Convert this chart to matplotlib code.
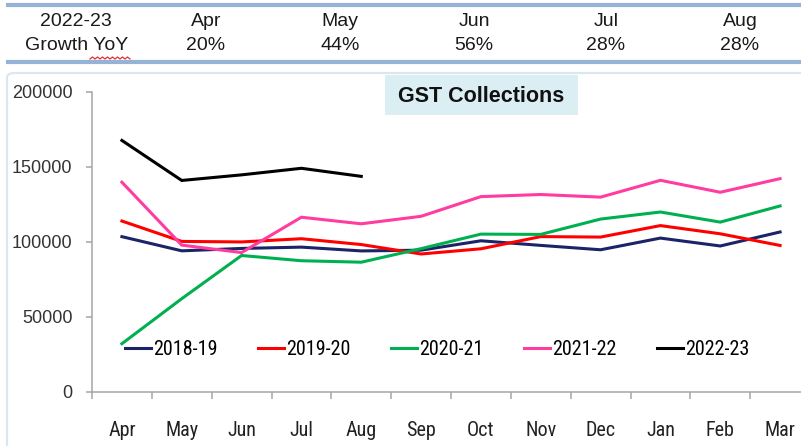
import numpy as np
import matplotlib.pyplot as plt
from matplotlib.patches import Rectangle, FancyBboxPatch
from matplotlib.lines import Line2D

# --- data
months = ['Apr', 'May', 'Jun', 'Jul', 'Aug', 'Sep', 'Oct', 'Nov', 'Dec', 'Jan', 'Feb', 'Mar']
fy_2018 = [103459, 94016, 95610, 96483, 93960, 94442, 100710, 97637, 94726, 102503, 97247, 106577]
fy_2019 = [113865, 100289, 99939, 102083, 98202, 91916, 95380, 103491, 103184, 110828, 105366, 97597]
fy_2020 = [32172, 62151, 90917, 87422, 86449, 95480, 105155, 104963, 115174, 119875, 113143, 123902]
fy_2021 = [139708, 97821, 92849, 116393, 112020, 117010, 130127, 131526, 129780, 140986, 133026, 142095]
fy_2022 = [167540, 140885, 144616, 148995, 143612]

series_labels = ['2018-19', '2019-20', '2020-21', '2021-22', '2022-23']
series_colors = ['#1a2466', '#ff0000', '#00b050', '#ff3ca0', '#000000']

growth_months = ['Apr', 'May', 'Jun', 'Jul', 'Aug']
growth_yoy = ['20%', '44%', '56%', '28%', '28%']

W, H = 801, 446
NARROW = ['Roboto Condensed', 'PT Sans Narrow', 'DejaVu Sans']
ARIAL = ['Liberation Sans', 'DejaVu Sans']

fig = plt.figure(figsize=(W / 100, H / 100), dpi=100)


def fx(x):
    return x / W


def fy(y):
    return 1 - y / H


# --- top growth table
for yline in (5, 62):
    fig.add_artist(Line2D([fx(8), fx(801)], [fy(yline), fy(yline)], color='#95b3d7', lw=3))

fig.text(fx(76), fy(22), '2022-23', ha='center', va='center', fontsize=14, family=ARIAL, color='#1a1a1a')
fig.text(fx(77), fy(46), 'Growth YoY', ha='center', va='center', fontsize=14, family=ARIAL, color='#1a1a1a')
# spell-check squiggle under YoY
sq_x = np.linspace(fx(90), fx(130), 17)
sq_y = fy(59) + np.where(np.arange(17) % 2 == 0, 0, 2 / H)
fig.add_artist(Line2D(sq_x, sq_y, color='#e03030', lw=0.9))

col_x = [206, 340, 474, 606, 740]
for xc, m, g in zip(col_x, growth_months, growth_yoy):
    fig.text(fx(xc), fy(22), m, ha='center', va='center', fontsize=14, family=ARIAL, color='#1a1a1a')
    fig.text(fx(xc), fy(46), g, ha='center', va='center', fontsize=14, family=ARIAL, color='#1a1a1a')

# --- chart frame
fig.add_artist(FancyBboxPatch((fx(7), fy(470)), fx(820), (470 - 73) / H,
                              boxstyle='round,pad=0,rounding_size=0.01',
                              transform=fig.transFigure, fill=False,
                              edgecolor='#dce6f2', lw=1.6))

# --- plot
ax = fig.add_axes([fx(92), fy(392), fx(810 - 92), (392 - 91.7) / H])
x = np.arange(12) + 0.5
all_series = [fy_2018, fy_2019, fy_2020, fy_2021, fy_2022]
for vals, lab, col in zip(all_series, series_labels, series_colors):
    ax.plot(x[:len(vals)], vals, color=col, lw=2.2, label=lab, solid_joinstyle='miter')

ax.set_xlim(0, 12)
ax.set_ylim(0, 200000)
ax.set_yticks([0, 50000, 100000, 150000, 200000])
ax.set_yticklabels(['0', '50000', '100000', '150000', '200000'], family=ARIAL, fontsize=13, color='#333333')
ax.set_xticks(np.arange(13))
ax.set_xticklabels([])
ax.set_xticks(x, minor=True)
ax.set_xticklabels(months, minor=True, family=NARROW, fontsize=14.5, color='#222222')
ax.tick_params(axis='x', which='major', length=5, color='#a6a6a6', width=1.1)
ax.tick_params(axis='x', which='minor', length=0, pad=21)
ax.tick_params(axis='y', length=4, color='#a6a6a6', width=1.1, pad=10)
for s in ('top', 'right'):
    ax.spines[s].set_visible(False)
for s in ('left', 'bottom'):
    ax.spines[s].set_color('#a6a6a6')
    ax.spines[s].set_linewidth(1.1)

ax.legend(loc='center left', bbox_to_anchor=(0.046, 0.14), ncol=5, frameon=False,
          prop={'family': NARROW, 'size': 14.5}, handlelength=1.3, handletextpad=0.1,
          columnspacing=2.0, borderpad=0, borderaxespad=0)

# title box
fig.add_artist(Rectangle((fx(385), fy(115)), fx(578 - 385), (115 - 75) / H,
                         transform=fig.transFigure, facecolor='#daeef3', edgecolor='none'))
fig.text(fx(481), fy(96), 'GST Collections', ha='center', va='center', fontsize=15.5,
         fontweight='bold', family=ARIAL, color='#111111')

fig.savefig('out.png', dpi=100)
